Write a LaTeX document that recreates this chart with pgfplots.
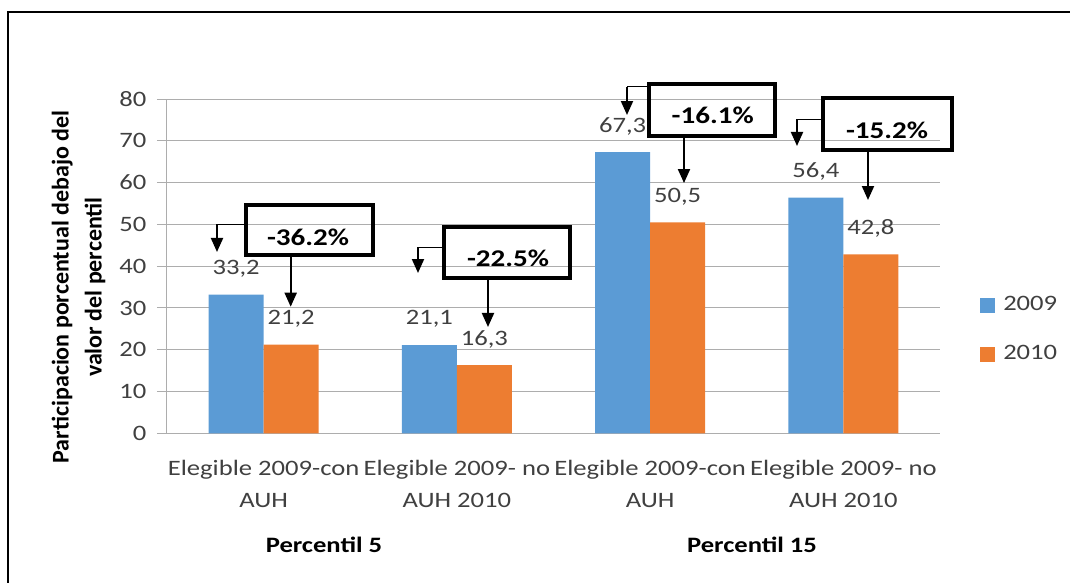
\documentclass[border=0pt]{standalone}
\usepackage{fontspec}
\setmainfont{Carlito}[FakeStretch=1.21]
\newfontfamily\ylabfont{Carlito}
\usepackage{pgfplots}
\pgfplotsset{compat=1.18}
\usetikzlibrary{arrows.meta}
\definecolor{cblue}{HTML}{5B9BD5}
\definecolor{corange}{HTML}{ED7D31}
\definecolor{txt}{HTML}{404040}
\definecolor{gridc}{HTML}{ADADAD}
\begin{document}
\begin{tikzpicture}
\useasboundingbox (-167pt,-149.7pt) rectangle (903pt,433.3pt);
\begin{axis}[
  at={(0pt,0pt)}, anchor=south west,
  scale only axis, width=773pt, height=334.3pt,
  ybar=0pt, bar width=55pt,
  xmin=-0.5, xmax=3.5, ymin=0, ymax=80,
  ytick={0,10,...,80},
  xtick={0,1,2,3},
  xticklabels={{Elegible 2009-con\\AUH},{Elegible 2009- no\\AUH 2010},{Elegible 2009-con\\AUH},{Elegible 2009- no\\AUH 2010}},
  xticklabel style={align=center, font=\fontsize{22}{32}\selectfont, text=txt, yshift=-13pt},
  yticklabel style={font=\fontsize{22}{25}\selectfont, text=txt, xshift=-7pt},
  /pgf/number format/assume math mode=true,
  axis x line*=bottom, axis y line*=left,
  axis line style={-, draw=gridc, line width=1pt},
  ymajorgrids, major grid style={draw=gridc, line width=1pt},
  ytick style={draw=gridc, line width=1pt}, tick align=outside, major tick length=10pt,
  xtick style={draw=none},
  clip=false,
  every axis y label/.style={at={(axis description cs:-0.1145,0.4376)},rotate=90,anchor=center},
  ylabel={Participacion porcentual debajo del\\valor del percentil},
  ylabel style={font=\ylabfont\bfseries\fontsize{24}{33}\selectfont, align=center, text=black},
  nodes near coords={\pgfmathprintnumber[fixed,fixed zerofill,precision=1,use comma]{\pgfplotspointmeta}},
  every node near coord/.append style={font=\fontsize{22}{25}\selectfont, text=txt, anchor=center, yshift=26pt},
  legend style={at={(axis description cs:1.0518,0.3105)}, anchor=west, draw=none, fill=none, inner sep=0pt,
    font=\fontsize{22}{25}\selectfont, text=txt, row sep=25pt,
    nodes={text height=15pt, text depth=5pt, inner sep=2pt}},
  legend cell align=left,
  legend image code/.code={\fill[#1] (0pt,-7.5pt) rectangle (15pt,7.5pt); \path (21pt,0pt);},
]
\addplot[fill=cblue, draw=none] coordinates {(0,33.2) (1,21.1) (2,67.3) (3,56.4)};
\addplot[fill=corange, draw=none] coordinates {(0,21.2) (1,16.3) (2,50.5) (3,42.8)};
\legend{2009,2010}

% annotation boxes
\draw[line width=3.3pt] (axis cs:-0.091,42.67) rectangle (axis cs:0.566,54.63);
\node[font=\bfseries\fontsize{24}{27}\selectfont] at (axis cs:0.2296,46.97) {-36.2\%};
\draw[line width=1pt] (axis cs:-0.091,50.08) -- (axis cs:-0.2413,50.08);
\draw[line width=2pt, -{Triangle[width=12pt,length=14pt]}] (axis cs:-0.2413,50.08) -- (axis cs:-0.2413,43.39);
\draw[line width=2pt, -{Triangle[width=12pt,length=14pt]}] (axis cs:0.140,42.67) -- (axis cs:0.140,30.29);

\draw[line width=3.3pt] (axis cs:0.9334,37.16) rectangle (axis cs:1.5854,49.37);
\node[font=\bfseries\fontsize{24}{27}\selectfont] at (axis cs:1.2646,41.95) {-22.5\%};
\draw[line width=1pt] (axis cs:0.9334,44.57) -- (axis cs:0.7988,44.57);
\draw[line width=2pt, -{Triangle[width=12pt,length=14pt]}] (axis cs:0.7988,44.57) -- (axis cs:0.7988,38.36);
\draw[line width=2pt, -{Triangle[width=12pt,length=14pt]}] (axis cs:1.161,37.16) -- (axis cs:1.161,25.44);

\draw[line width=3.3pt] (axis cs:1.9942,71.14) rectangle (axis cs:2.6462,83.58);
\node[font=\bfseries\fontsize{24}{27}\selectfont] at (axis cs:2.3238,76.17) {-16.1\%};
\draw[line width=1pt] (axis cs:1.9942,82.94) -- (axis cs:1.8803,82.94);
\draw[line width=2pt, -{Triangle[width=12pt,length=14pt]}] (axis cs:1.8803,82.94) -- (axis cs:1.8803,76.17);
\draw[line width=2pt, -{Triangle[width=12pt,length=14pt]}] (axis cs:2.1753,71.14) -- (axis cs:2.1753,59.89);

\draw[line width=3.3pt] (axis cs:2.8946,67.79) rectangle (axis cs:3.5621,80.23);
\node[font=\bfseries\fontsize{24}{27}\selectfont] at (axis cs:3.2257,72.58) {-15.2\%};
\draw[line width=1pt] (axis cs:2.8946,75.21) -- (axis cs:2.760,75.21);
\draw[line width=2pt, -{Triangle[width=12pt,length=14pt]}] (axis cs:2.760,75.21) -- (axis cs:2.760,68.76);
\draw[line width=2pt, -{Triangle[width=12pt,length=14pt]}] (axis cs:3.1274,67.79) -- (axis cs:3.1274,55.83);

\node[font=\bfseries\fontsize{22}{25}\selectfont] at (axis cs:0.3124,-26.73) {Percentil 5};
\node[font=\bfseries\fontsize{22}{25}\selectfont] at (axis cs:2.5272,-26.73) {Percentil 15};
\end{axis}
\draw[line width=2.5pt] (-159pt,-160pt) -- (-159pt,421.3pt) -- (910pt,421.3pt);
\end{tikzpicture}
\end{document}
